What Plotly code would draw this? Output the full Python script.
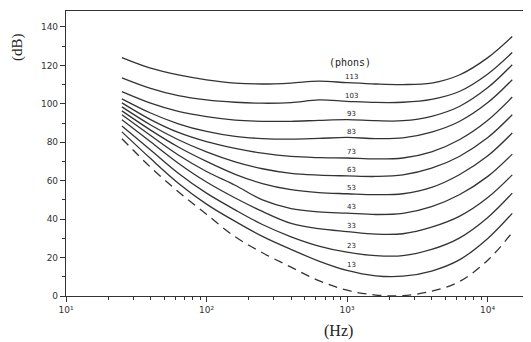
import plotly.graph_objects as go

# Frequencies (Hz) at which the contours were read
freq = [25, 40, 63, 100, 160, 250, 400, 630, 1000, 1600, 2500, 4000, 6300, 10000, 15000]

# Equal-loudness contours (dB), one list per loudness level (phons)
p113 = [124, 118.5, 115, 112.5, 110.8, 110.3, 110.8, 111.8, 111, 110.3, 110, 110.8, 115, 123.9, 135]
p103 = [113.5, 108, 104.2, 102, 100.8, 100.3, 100.6, 102, 101.3, 100.7, 100.8, 102.3, 106.4, 115.4, 126.7]
p93 = [106.3, 100.3, 96, 93.3, 91.5, 90.9, 90.9, 91.4, 91.8, 91.2, 91.2, 93.5, 98.6, 108.3, 120.3]
p83 = [102.6, 95.2, 89.6, 85.6, 83, 81.9, 81.6, 82, 82.5, 81.9, 82.3, 85.3, 90.8, 100.5, 112.5]
p73 = [100.5, 91.8, 85.1, 80.3, 76.8, 74.3, 72.6, 72, 71.8, 71.3, 71.8, 75, 81.3, 91.3, 103.5]
p63 = [98.4, 89, 81.3, 75, 69.8, 66.2, 63.8, 62.9, 62.5, 62.2, 63, 66.5, 72.6, 82.3, 94.3]
p53 = [96.3, 86.3, 77.5, 70, 63.3, 58.5, 55.3, 53.8, 53.2, 52.7, 53.2, 56.5, 63.1, 72.8, 84.8]
p43 = [94.3, 83.5, 73.4, 64.8, 57.6, 50, 45.5, 43.8, 43.1, 42.4, 43, 46.5, 52.7, 62.1, 73.8]
p33 = [91.7, 80.2, 69.1, 59.3, 51, 44, 37.8, 35, 33.5, 32.2, 32.4, 35.8, 41.4, 51.1, 63]
p23 = [88.5, 76, 63.9, 53.5, 44.8, 37.2, 30.8, 26, 22.8, 21, 21, 24.2, 30.1, 40.7, 53.5]
p13 = [85.4, 71.5, 58.7, 47.8, 38.8, 31, 24.2, 18.2, 13.3, 10.5, 10.3, 13, 18.8, 29.8, 43]
threshold = [81.8, 67, 54.3, 42.5, 30.8, 22.5, 15, 8, 3, 0.5, 0.2, 2.5, 7.5, 18.5, 33]

phon_labels = ["113", "103", "93", "83", "73", "63", "53", "43", "33", "23", "13"]
contours = [p113, p103, p93, p83, p73, p63, p53, p43, p33, p23, p13]

x_tickvals = [10, 100, 1000, 10000]
x_ticktext = ["10¹", "10²", "10³", "10⁴"]
y_tickvals = [0, 20, 40, 60, 80, 100, 120, 140]

ref_idx = freq.index(1000)

# page body adds an 8px offset; compensate in margins
OFF = 8
W, H = 531, 342
ml, mt = 66 - OFF, 11 - OFF
pw, ph = 463, 285
mr, mb = W - ml - pw, H - mt - ph

LINE = "#333333"
fig = go.Figure()
for name, ys in zip(phon_labels, contours):
    fig.add_trace(go.Scatter(x=freq, y=ys, mode="lines", name=name,
                             line=dict(color=LINE, width=1.3, shape="spline", smoothing=1.0),
                             showlegend=False, hoverinfo="skip"))
    fig.add_annotation(x=3.035, y=ys[ref_idx] + 3, xref="x", yref="y", text=name,
                       showarrow=False, font=dict(family="DejaVu Sans", size=7, color="#222"))
fig.add_trace(go.Scatter(x=freq, y=threshold, mode="lines", name="threshold",
                         line=dict(color=LINE, width=1.3, dash="9px,6px", shape="spline", smoothing=1.0),
                         showlegend=False, hoverinfo="skip"))

fig.add_annotation(x=3.02, y=121.5, xref="x", yref="y", text="(phons)", showarrow=False,
                   font=dict(family="DejaVu Sans Mono", size=10, color="#222"))


def px(xp, yp):
    return (xp - OFF - ml) / pw, (H - mb - (yp - OFF)) / ph


ax, ay = px(18, 47)
fig.add_annotation(x=ax, y=ay, xref="paper", yref="paper", text="(dB)", showarrow=False,
                   xanchor="center", yanchor="middle",
                   textangle=-90, font=dict(family="Liberation Serif", size=15, color="#222"))
ax, ay = px(338, 331)
fig.add_annotation(x=ax, y=ay, xref="paper", yref="paper", text="(Hz)", showarrow=False,
                   xanchor="center", yanchor="middle",
                   font=dict(family="Liberation Serif", size=16, color="#222"))

minor_x = [v * m for v in (10, 100, 1000, 10000) for m in range(2, 10)]

fig.update_layout(
    width=W, height=H,
    margin=dict(l=ml, r=mr, t=mt, b=mb, autoexpand=False),
    paper_bgcolor="white", plot_bgcolor="white",
    xaxis=dict(type="log", range=[1, 1 + pw / 140.5], automargin=False,
               tickvals=x_tickvals, ticktext=x_ticktext,
               ticks="outside", ticklen=5, tickwidth=1, tickcolor=LINE,
               minor=dict(tickvals=minor_x, ticks="outside", ticklen=3, tickcolor=LINE, showgrid=False),
               showgrid=False, zeroline=False, showline=True, mirror=True,
               linecolor=LINE, linewidth=1.2,
               tickfont=dict(family="DejaVu Sans", size=9, color="#333")),
    yaxis=dict(range=[0, ph / 1.922], tickvals=y_tickvals, automargin=False,
               ticks="outside", ticklen=5, tickwidth=1, tickcolor=LINE,
               minor=dict(dtick=10, ticks="outside", ticklen=3, tickcolor=LINE, showgrid=False),
               showgrid=False, zeroline=False, showline=True, mirror=True,
               linecolor=LINE, linewidth=1.2,
               tickfont=dict(family="DejaVu Sans", size=9, color="#333")),
)

fig.write_html("out.html")
